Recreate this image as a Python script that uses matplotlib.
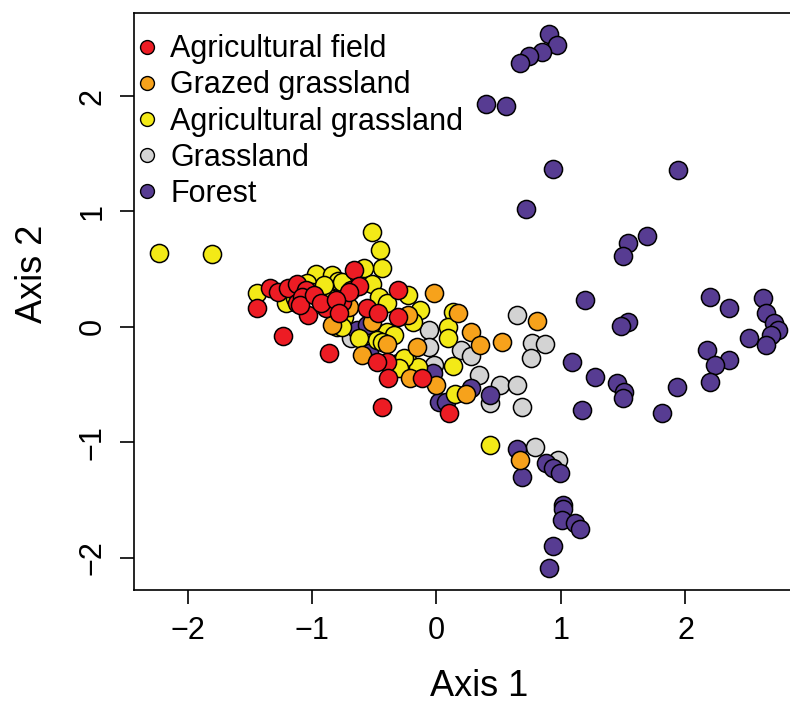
import matplotlib
matplotlib.use("Agg")
import matplotlib.pyplot as plt

plt.rcParams['font.family'] = ['Liberation Sans', 'DejaVu Sans']

labels = ["Agricultural field", "Grazed grassland", "Agricultural grassland",
          "Grassland", "Forest"]
colors = ["#ED1C24", "#F7A21B", "#F3EA17", "#D3D3D3", "#573C92"]

# Agricultural field
field_x = [-1.44, -1.34, -1.27, -1.19, -1.12, -1.12, -1.05, -1.03, -1.23, -0.86,
           -0.89, -0.76, -1.08, -1.10, -0.66, -0.69, -0.56, -0.47, -0.31, -0.31,
           -0.62, -0.40, -0.39, -0.44, 0.10, -0.70, -0.48, -0.12, -0.98, -0.93,
           -0.81, -0.78]
field_y = [0.16, 0.34, 0.30, 0.34, 0.37, 0.21, 0.32, 0.10, -0.08, -0.23,
           0.16, 0.22, 0.26, 0.19, 0.49, 0.32, 0.16, 0.12, 0.32, 0.09,
           0.35, -0.30, -0.44, -0.69, -0.75, 0.30, -0.30, -0.44, 0.28, 0.21,
           0.23, 0.12]

# Grazed grassland
grazed_x = [-0.02, 0.17, 0.81, 0.28, 0.53, 0.35, -0.16, -0.40, -0.60, -0.21,
            0.00, 0.24, -0.52, -0.23, 0.67, -0.84, -0.70]
grazed_y = [0.29, 0.12, 0.05, -0.04, -0.13, -0.16, -0.17, -0.15, -0.24, -0.44,
            -0.50, -0.58, 0.04, 0.10, -1.15, 0.02, 0.17]

# Agricultural grassland
agrass_x = [-2.23, -1.80, -1.44, -0.97, -0.84, -0.79, -0.84, -1.21, -0.74, -0.80,
            -1.14, -1.04, -0.52, -0.45, -0.44, -0.58, -0.76, -0.52, -0.46, -0.23,
            -0.13, -0.19, 0.13, 0.09, 0.09, -0.40, -0.40, -0.34, -0.48, -0.62,
            -0.76, -0.24, -0.15, 0.13, 0.15, 0.43, -0.31, -0.44, -0.26, -0.30,
            -1.00, -0.90]
agrass_y = [0.64, 0.63, 0.29, 0.46, 0.45, 0.40, 0.24, 0.21, 0.09, 0.00,
            0.25, 0.38, 0.82, 0.67, 0.51, 0.51, 0.39, 0.37, 0.26, 0.28,
            0.15, 0.04, 0.13, 0.00, -0.10, 0.21, -0.04, -0.07, -0.11, -0.10,
            0.00, -0.29, -0.35, -0.34, -0.58, -1.02, -0.31, -0.13, -0.27, -0.36,
            0.30, 0.36]

# Grassland
grass_x = [0.65, -0.06, -0.06, 0.20, 0.28, 0.77, 0.87, 0.76, 0.34, 0.51,
           0.65, 0.43, 0.69, -0.02, -0.69, 0.79, 0.98, -0.92]
grass_y = [0.10, -0.03, -0.17, -0.20, -0.25, -0.14, -0.15, -0.27, -0.42, -0.50,
           -0.50, -0.66, -0.69, -0.33, -0.10, -1.04, -1.15, 0.29]

# Forest
forest_x = [0.90, 0.97, 0.85, 0.74, 0.67, 0.40, 0.56, 0.94, 1.94, 0.72,
            1.69, 1.54, 1.50, 1.19, 2.20, 2.35, 2.62, 2.65, 2.71, 2.74,
            2.69, 2.51, 2.65, 1.54, 1.48, 2.17, 2.35, 2.24, 2.20, 1.93,
            1.81, 1.09, 1.27, 1.45, 1.51, 1.50, 1.17, 0.43, 0.65, 0.69,
            0.88, 0.94, 0.99, 1.02, 1.02, 1.01, 1.11, 1.15, 0.94, 0.90,
            -0.64, -0.56, -0.54, -0.03, 0.02, 0.08, 0.28]
forest_y = [2.54, 2.44, 2.38, 2.35, 2.29, 1.93, 1.91, 1.37, 1.36, 1.02,
            0.79, 0.73, 0.61, 0.23, 0.26, 0.16, 0.25, 0.12, 0.03, -0.03,
            -0.07, -0.10, -0.16, 0.04, 0.01, -0.20, -0.29, -0.33, -0.48, -0.52,
            -0.75, -0.30, -0.43, -0.49, -0.56, -0.62, -0.72, -0.59, -1.06, -1.30,
            -1.18, -1.22, -1.27, -1.54, -1.58, -1.67, -1.70, -1.75, -1.90, -2.09,
            -0.03, 0.02, -0.23, -0.40, -0.65, -0.65, -0.53]

groups = [(grass_x, grass_y, 3), (forest_x, forest_y, 4), (agrass_x, agrass_y, 2),
          (grazed_x, grazed_y, 1), (field_x, field_y, 0)]

fig = plt.figure(figsize=(7.9, 7.04), dpi=100)
ax = fig.add_axes([134 / 790, 114 / 704, 1 - 134 / 790, 577 / 704])

for gx, gy, k in groups:
    ax.scatter(gx, gy, s=170, c=colors[k], edgecolors="black",
               linewidths=1.1, zorder=3)

ax.set_xlim(-2.43, 2.84)
ax.set_ylim(-2.28, 2.72)
ax.spines['right'].set_visible(False)
for sp in ['left', 'top', 'bottom']:
    ax.spines[sp].set_linewidth(1.2)

ax.set_xticks([-2, -1, 0, 1, 2])
ax.set_yticks([-2, -1, 0, 1, 2])
ax.set_xticklabels(["\u22122", "\u22121", "0", "1", "2"])
ax.set_yticklabels(["\u22122", "\u22121", "0", "1", "2"], rotation=90, va="center")
ax.tick_params(direction="out", length=10, width=1.2, labelsize=22, pad=9)

ax.set_xlabel("Axis 1", fontsize=26)
ax.set_ylabel("Axis 2", fontsize=26)
ax.xaxis.set_label_coords((479 - 134) / 656, -0.137)
ax.yaxis.set_label_coords(-0.128, (590 - 274) / 577)

handles = [plt.Line2D([], [], ls="none", marker="o", ms=10, mfc=c, mec="black",
                      mew=1.0) for c in colors]
ax.legend(handles, labels, loc="upper left", frameon=False, fontsize=22,
          handlelength=0.6, handletextpad=0.45, labelspacing=0.2,
          borderaxespad=0.3, bbox_to_anchor=(-0.026, 1.0))

fig.savefig("out.png", dpi=100)
